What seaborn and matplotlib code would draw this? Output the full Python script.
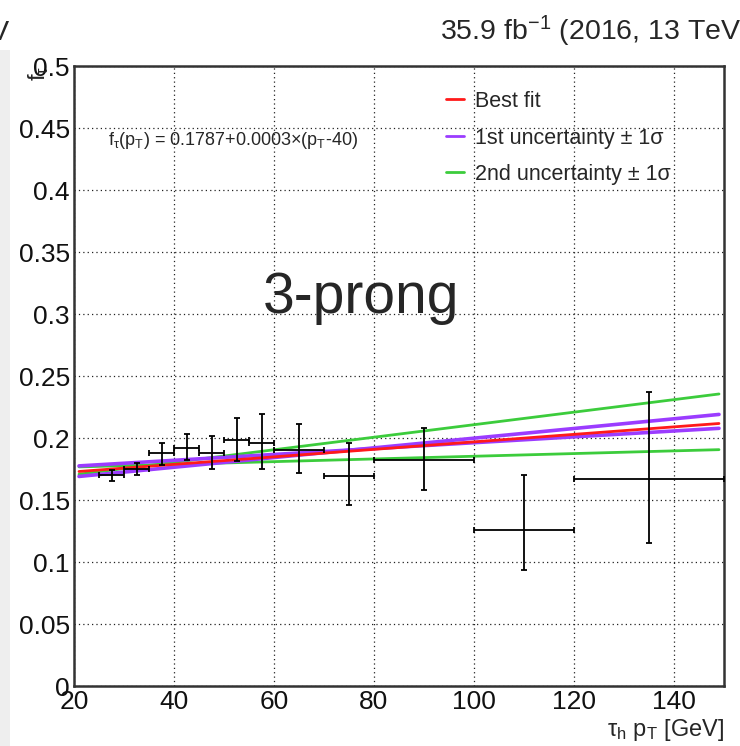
import matplotlib
matplotlib.use("Agg")
import matplotlib.pyplot as plt
from matplotlib.lines import Line2D
from matplotlib.patches import Rectangle
from matplotlib.ticker import MultipleLocator, FixedLocator
import numpy as np
import pandas as pd
import seaborn as sns

# ---------------- data ----------------
pt_center = [27.5, 32.5, 37.5, 42.5, 47.5, 52.5, 57.5, 65, 75, 90, 110, 135]
pt_lo = [25, 30, 35, 40, 45, 50, 55, 60, 70, 80, 100, 120]
pt_hi = [30, 35, 40, 45, 50, 55, 60, 70, 80, 100, 120, 150]
f_tau = [0.170, 0.175, 0.1876, 0.1922, 0.1876, 0.1981, 0.1962, 0.190, 0.1696, 0.182, 0.1258, 0.1667]
err_up = [0.0045, 0.005, 0.008, 0.011, 0.014, 0.018, 0.023, 0.021, 0.026, 0.026, 0.044, 0.070]
err_dn = [0.0045, 0.005, 0.009, 0.010, 0.013, 0.017, 0.021, 0.018, 0.024, 0.024, 0.032, 0.051]

fit_x = [21, 149]
best_fit = [0.1730, 0.2117]
unc1_a = [0.1690, 0.2190]
unc1_b = [0.1775, 0.2078]
unc2_a = [0.1708, 0.2355]
unc2_b = [0.1767, 0.1906]

legend_labels = ["Best fit", "1st uncertainty \u00b1 1\u03c3", "2nd uncertainty \u00b1 1\u03c3"]
x_ticks = [20, 40, 60, 80, 100, 120, 140]
y_ticks = [0, 0.05, 0.1, 0.15, 0.2, 0.25, 0.3, 0.35, 0.4, 0.45, 0.5]
y_ticklabels = ["0", "0.05", "0.1", "0.15", "0.2", "0.25", "0.3", "0.35", "0.4", "0.45", "0.5"]

# ---------------- style ----------------
sns.set_theme(style="white")
plt.rcParams["font.family"] = ["Liberation Sans", "DejaVu Sans"]
plt.rcParams["mathtext.fontset"] = "custom"
plt.rcParams["mathtext.rm"] = "Liberation Sans"
plt.rcParams["mathtext.it"] = "Liberation Sans"
plt.rcParams["mathtext.bf"] = "Liberation Sans"

RED = "#ff1a1a"
PURPLE = "#9b3cff"
GREEN = "#3ccc3c"

fig = plt.figure(figsize=(7.4, 7.46), dpi=100)
fig.patch.set_facecolor("white")
ax = fig.add_axes([74 / 740, 60 / 746, 650 / 740, 620 / 746])

# fit lines
rows = []
for lid, (kind, vals) in enumerate([
    ("2nd", unc2_a), ("2nd", unc2_b), ("1st", unc1_a), ("1st", unc1_b), ("best", best_fit)
]):
    for x, y in zip(fit_x, vals):
        rows.append({"pT": x, "f": y, "kind": kind, "lid": lid})
df = pd.DataFrame(rows)
pal = {"best": RED, "1st": PURPLE, "2nd": GREEN}
for kind, lw in [("2nd", 2.0), ("1st", 2.6), ("best", 2.0)]:
    sub = df[df["kind"] == kind]
    sns.lineplot(data=sub, x="pT", y="f", units="lid", estimator=None,
                 color=pal[kind], lw=lw, ax=ax, legend=False, zorder=3)

# data points
xc = np.array(pt_center, dtype=float)
xerr = np.array([xc - np.array(pt_lo), np.array(pt_hi) - xc])
yerr = np.array([err_dn, err_up])
ax.errorbar(xc, f_tau, xerr=xerr, yerr=yerr, fmt="none", ecolor="black",
            elinewidth=1.3, capsize=2.5, capthick=1.3, zorder=4)

# axes
ax.set_xlim(20, 150)
ax.set_ylim(0, 0.5)
ax.xaxis.set_major_locator(FixedLocator(x_ticks))
ax.xaxis.set_minor_locator(MultipleLocator(5))
ax.set_yticks(y_ticks)
ax.set_yticklabels(y_ticklabels)
ax.yaxis.set_minor_locator(MultipleLocator(0.01))
ax.tick_params(which="both", direction="in", top=False, right=False, colors="#222222",
               labelsize=19, labelcolor="#111111")
ax.tick_params(axis="y", which="major", length=14, width=1.3, pad=3)
ax.tick_params(axis="y", which="minor", length=8, width=1.0)
ax.tick_params(axis="x", which="major", length=14, width=1.3, pad=3)
ax.tick_params(axis="x", which="minor", length=8, width=1.0)
for s in ax.spines.values():
    s.set_color("#333333")
    s.set_linewidth(1.8)
ax.grid(True, which="major", color="#222222", linestyle=(0, (1, 2.5)), linewidth=0.9)
ax.set_axisbelow(True)

ax.set_xlabel(r"$\mathregular{\tau_{h}\ p_{T}}$ [GeV]", fontsize=17, loc="right")
ax.xaxis.set_label_coords(1.0, -0.05)
ax.set_ylabel(r"$\mathregular{f_{\tau}}$", fontsize=17, loc="top")
ax.yaxis.set_label_coords(-0.036, 1.0)

# legend
handles = [Line2D([0], [0], color=c, lw=2) for c in (RED, PURPLE, GREEN)]
ax.legend(handles, legend_labels, loc="upper left", bbox_to_anchor=(0.555, 0.977),
          frameon=False, fontsize=15.5, handlelength=0.85, handletextpad=0.5,
          labelspacing=0.72, borderpad=0)

# annotations
ax.text(26.8, 0.440, r"$\mathregular{f_{\tau}(p_{T})}$ = 0.1787+0.0003$\times$($\mathregular{p_{T}}$-40)",
        fontsize=13, ha="left", va="center")
ax.text(77.5, 0.301, "3-prong", fontsize=41, ha="center", va="baseline")

fig.text(440 / 740, 1 - 40 / 746, r"35.9 fb$^{\mathregular{-1}}$ (2016, 13 TeV)", fontsize=20.5,
         ha="left", va="baseline")
fig.text(9 / 740, 1 - 40 / 746, "13 TeV", fontsize=20.5, ha="right", va="baseline")
fig.patches.append(Rectangle((0, 0), 10 / 740, 1 - 50 / 746, transform=fig.transFigure,
                             facecolor="#eeeeee", edgecolor="none", zorder=-5))

fig.savefig("out.png", dpi=100)
